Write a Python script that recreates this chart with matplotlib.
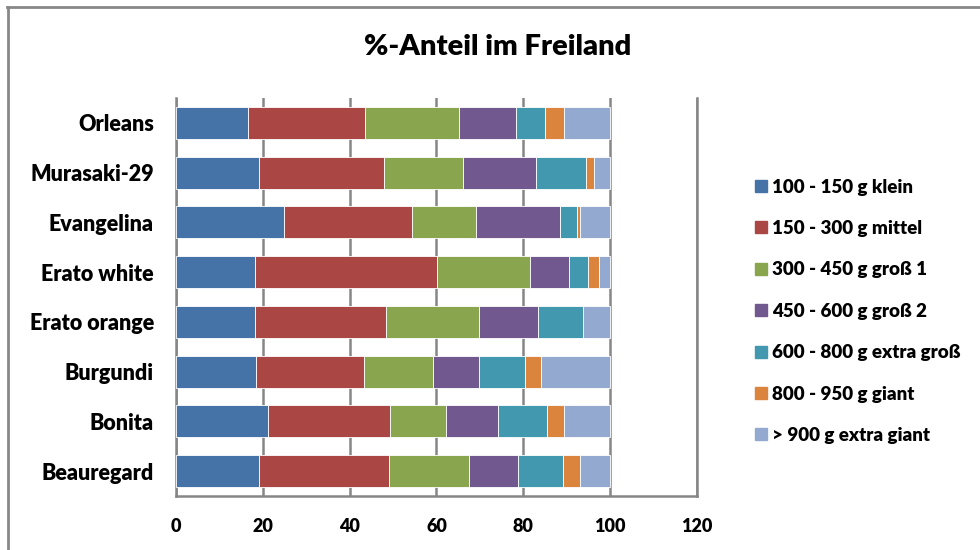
import numpy as np
import matplotlib.pyplot as plt
from matplotlib.lines import Line2D

plt.rcParams['font.family'] = ['Lato', 'DejaVu Sans']

# Varieties, listed bottom to top on the chart
sorten = ["Beauregard", "Bonita", "Burgundi", "Erato orange",
          "Erato white", "Evangelina", "Murasaki-29", "Orleans"]

klassen = ["100 - 150 g klein", "150 - 300 g mittel", "300 - 450 g groß 1",
           "450 - 600 g groß 2", "600 - 800 g extra groß", "800 - 950 g giant",
           "> 900 g extra giant"]

# share (%) per weight class, same order as sorten
klein       = [19.1, 21.2, 18.5, 18.2, 18.2, 24.8, 19.1, 16.5]
mittel      = [29.9, 28.0, 24.8, 30.2, 41.9, 29.6, 28.8, 27.0]
gross1      = [18.6, 12.9, 16.0, 21.3, 21.5, 14.6, 18.1, 21.7]
gross2      = [11.2, 12.1, 10.5, 13.6,  8.9, 19.5, 17.0, 13.1]
extra_gross = [10.4, 11.3, 10.7, 10.5,  4.3,  3.9, 11.5,  6.7]
giant       = [ 3.9,  3.9,  3.6,  0.0,  2.7,  0.7,  1.7,  4.4]
extra_giant = [ 6.9, 10.6, 15.9,  6.2,  2.5,  6.9,  3.8, 10.6]

serien = [klein, mittel, gross1, gross2, extra_gross, giant, extra_giant]
farben = ["#4572A7", "#AA4643", "#89A54E", "#71588F", "#4198AF", "#DB843D", "#93A9CF"]

GEWICHT = "heavy"

fig = plt.figure(figsize=(9.8, 5.5), dpi=100)
ax = fig.add_axes([0.1796, 0.0982, 0.5316, 0.7236])

y = np.arange(len(sorten))
links = np.zeros(len(sorten))
handles = []
for werte, farbe, name in zip(serien, farben, klassen):
    werte = np.array(werte)
    ax.barh(y, werte, left=links, height=0.64, color=farbe,
            edgecolor="white", linewidth=0.6, zorder=3)
    links += werte
    handles.append(Line2D([], [], marker="s", linestyle="none", markersize=8,
                          markerfacecolor=farbe, markeredgecolor=farbe, label=name))

ax.set_xlim(0, 120)
ax.set_ylim(-0.5, len(sorten) - 0.5)
ax.set_xticks(np.arange(0, 121, 20))
ax.set_yticks(y)
ax.set_yticklabels(sorten)
ax.tick_params(axis="both", length=0, colors="black")
ax.tick_params(axis="x", pad=16, labelsize=13)
ax.tick_params(axis="y", pad=16, labelsize=15.5)
for lbl in ax.get_xticklabels() + ax.get_yticklabels():
    lbl.set_fontweight(GEWICHT)
ax.grid(axis="x", color="#868686", linewidth=1.8, zorder=0)

ax.spines["top"].set_visible(False)
for side in ["left", "bottom", "right"]:
    ax.spines[side].set_color("#868686")
    ax.spines[side].set_linewidth(1.8)

fig.text(0.508, 0.914, "%-Anteil im Freiland", ha="center", va="center",
         fontsize=21, fontweight=GEWICHT)

fig.legend(handles=handles, loc="center left", bbox_to_anchor=(0.759, 0.434),
           frameon=False, prop={"size": 13.5, "weight": GEWICHT},
           labelspacing=1.3, handletextpad=0.1, handlelength=1.0, borderaxespad=0)

# outer chart frame
fig.add_artist(Line2D([0.007, 1.0], [0.987, 0.987], color="#888888", linewidth=2,
                      transform=fig.transFigure))
fig.add_artist(Line2D([0.008, 0.008], [0.0, 0.987], color="#888888", linewidth=2,
                      transform=fig.transFigure))

fig.savefig("out.png", dpi=100)
